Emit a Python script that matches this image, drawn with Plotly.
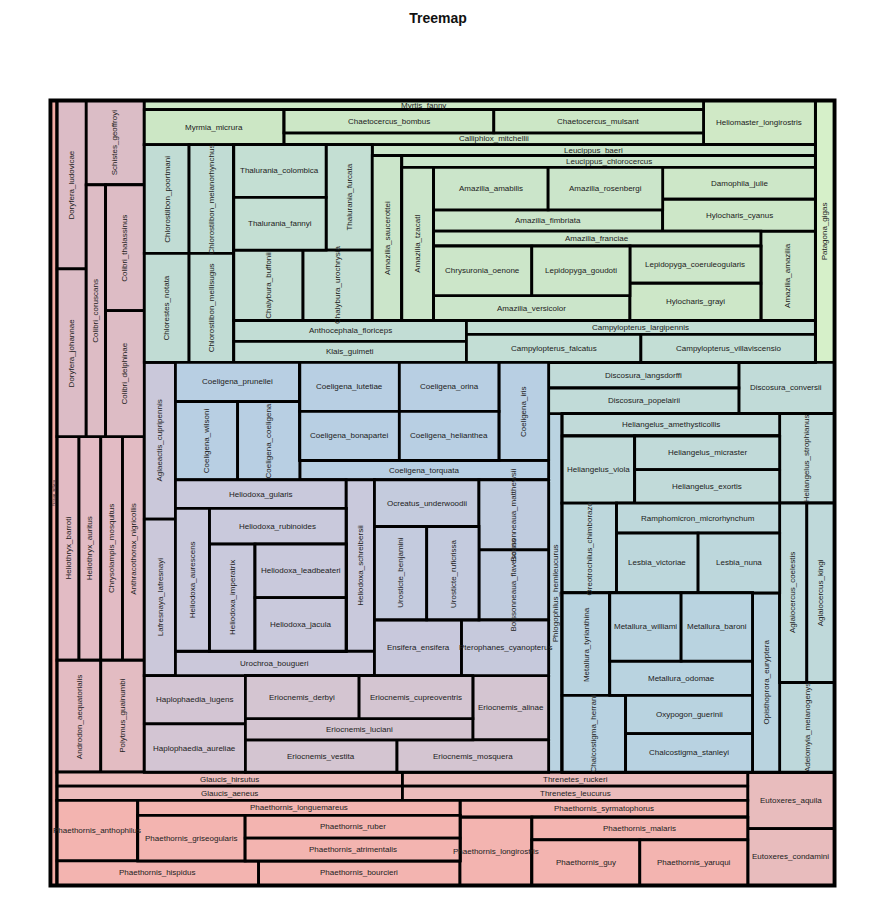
import plotly.graph_objects as go

# ---------------- data ----------------
species = [
    "Florisuga_mellivora",
    "Doryfera_ludovicae", "Doryfera_johannae", "Schistes_geoffroyi", "Colibri_coruscans",
    "Colibri_thalassinus", "Colibri_delphinae", "Heliothryx_barroti", "Heliothryx_auritus",
    "Chrysolampis_mosquitus", "Anthracothorax_nigricollis", "Androdon_aequatorialis", "Polytmus_guainumbi",
    "Myrtis_fanny", "Myrmia_micrura", "Chaetocercus_bombus", "Chaetocercus_mulsant",
    "Calliphlox_mitchellii", "Heliomaster_longirostris",
    "Chlorostilbon_poortmani", "Chlorostilbon_melanorhynchus", "Chlorestes_notata", "Chlorostilbon_mellisugus",
    "Thalurania_colombica", "Thalurania_fannyi", "Thalurania_furcata", "Chalybura_buffonii", "Chalybura_urochrysia",
    "Leucippus_baeri", "Amazilia_saucerottei", "Leucippus_chlorocercus", "Amazilia_tzacatl",
    "Amazilia_amabilis", "Amazilia_rosenbergi", "Amazilia_fimbriata", "Damophila_julie", "Hylocharis_cyanus",
    "Amazilia_franciae", "Chrysuronia_oenone", "Lepidopyga_goudoti", "Amazilia_versicolor",
    "Lepidopyga_coeruleogularis", "Hylocharis_grayi", "Amazilia_amazilia",
    "Anthocephala_floriceps", "Klais_guimeti", "Campylopterus_largipennis", "Campylopterus_falcatus",
    "Campylopterus_villaviscensio", "Patagona_gigas",
    "Aglaeactis_cupripennis", "Lafresnaya_lafresnayi",
    "Coeligena_prunellei", "Coeligena_wilsoni", "Coeligena_coeligena", "Coeligena_lutetiae", "Coeligena_orina",
    "Coeligena_bonapartei", "Coeligena_helianthea", "Coeligena_iris", "Coeligena_torquata",
    "Heliodoxa_gularis", "Heliodoxa_aurescens", "Heliodoxa_rubinoides", "Heliodoxa_imperatrix",
    "Heliodoxa_leadbeateri", "Heliodoxa_jacula", "Heliodoxa_schreibersii", "Urochroa_bougueri",
    "Ocreatus_underwoodii", "Urosticte_benjamini", "Urosticte_ruficrissa", "Boissonneaua_matthewsii",
    "Boissonneaua_flavescens", "Ensifera_ensifera", "Pterophanes_cyanopterus",
    "Haplophaedia_lugens", "Haplophaedia_aureliae", "Eriocnemis_derbyi", "Eriocnemis_cupreoventris",
    "Eriocnemis_luciani", "Eriocnemis_alinae", "Eriocnemis_vestita", "Eriocnemis_mosquera",
    "Discosura_langsdorffi", "Discosura_popelairii", "Discosura_conversii", "Phlogophilus_hemileucurus",
    "Heliangelus_amethysticollis", "Heliangelus_viola", "Heliangelus_micraster", "Heliangelus_exortis",
    "Heliangelus_strophianus", "Oreotrochilus_chimborazo", "Ramphomicron_microrhynchum", "Lesbia_victoriae",
    "Lesbia_nuna", "Metallura_tyrianthina", "Metallura_williami", "Metallura_baroni", "Metallura_odomae",
    "Chalcostigma_herrani", "Oxypogon_guerinii", "Chalcostigma_stanleyi", "Opisthoprora_euryptera",
    "Aglaiocercus_coelestis", "Aglaiocercus_kingi", "Adelomyia_melanogenys",
    "Glaucis_hirsutus", "Glaucis_aeneus", "Threnetes_ruckeri", "Threnetes_leucurus",
    "Phaethornis_anthophilus", "Phaethornis_longuemareus", "Phaethornis_griseogularis", "Phaethornis_ruber",
    "Phaethornis_atrimentalis", "Phaethornis_hispidus", "Phaethornis_bourcieri", "Phaethornis_syrmatophorus",
    "Phaethornis_longirostris", "Phaethornis_malaris", "Phaethornis_guy", "Phaethornis_yaruqui",
    "Eutoxeres_aquila", "Eutoxeres_condamini",
]

leaf_values = [
    1,
    1, 1, 1, 1, 1, 1, 1, 1, 1, 1, 1, 1,
    1, 1, 1, 1, 1, 1,
    1, 1, 1, 1,
    1, 1, 1, 1, 1,
    1, 1, 1, 1,
    1, 1, 1, 1, 1,
    1, 1, 1, 1, 1, 1, 1,
    1, 1, 1, 1, 1, 1,
    1, 1,
    1, 1, 1, 1, 1, 1, 1, 1, 1,
    1, 1, 1, 1, 1, 1, 1, 1,
    1, 1, 1, 1, 1, 1, 1,
    1, 1, 1, 1, 1, 1, 1, 1,
    1, 1, 1, 1,
    1, 1, 1, 1, 1,
    1, 1, 1, 1,
    1, 1, 1, 1, 1, 1, 1, 1,
    1, 1, 1,
    1, 1, 1, 1,
    1, 1, 1, 1, 1, 1, 1, 1, 1, 1, 1, 1,
    1, 1,
]

# nesting of the treemap (C = side by side, R = stacked)
def C(*k): return ("C", list(k))
def R(*k): return ("R", list(k))

tree = C(
    "Florisuga_mellivora",
    R(
        C(
            R(
                C(R("Doryfera_ludovicae", "Doryfera_johannae"),
                  R("Schistes_geoffroyi", C("Colibri_coruscans", R("Colibri_thalassinus", "Colibri_delphinae")))),
                C("Heliothryx_barroti", "Heliothryx_auritus", "Chrysolampis_mosquitus", "Anthracothorax_nigricollis"),
                C("Androdon_aequatorialis", "Polytmus_guainumbi"),
            ),
            R(
                C(
                    R(
                        C(R("Myrtis_fanny",
                            C("Myrmia_micrura",
                              R(C("Chaetocercus_bombus", "Chaetocercus_mulsant"), "Calliphlox_mitchellii"))),
                          "Heliomaster_longirostris"),
                        C(
                            R(C("Chlorostilbon_poortmani", "Chlorostilbon_melanorhynchus"),
                              C("Chlorestes_notata", "Chlorostilbon_mellisugus")),
                            R(
                                C(
                                    R(C(R("Thalurania_colombica", "Thalurania_fannyi"), "Thalurania_furcata"),
                                      C("Chalybura_buffonii", "Chalybura_urochrysia")),
                                    R("Leucippus_baeri",
                                      C("Amazilia_saucerottei",
                                        R("Leucippus_chlorocercus",
                                          C("Amazilia_tzacatl",
                                            R(C(R(C("Amazilia_amabilis", "Amazilia_rosenbergi"), "Amazilia_fimbriata"),
                                                R("Damophila_julie", "Hylocharis_cyanus")),
                                              C(R("Amazilia_franciae",
                                                  C(R(C("Chrysuronia_oenone", "Lepidopyga_goudoti"), "Amazilia_versicolor"),
                                                    R("Lepidopyga_coeruleogularis", "Hylocharis_grayi"))),
                                                "Amazilia_amazilia")))))),
                                ),
                                C(R("Anthocephala_floriceps", "Klais_guimeti"),
                                  R("Campylopterus_largipennis",
                                    C("Campylopterus_falcatus", "Campylopterus_villaviscensio"))),
                            ),
                        ),
                    ),
                    "Patagona_gigas",
                ),
                C(
                    R(
                        C(
                            R("Aglaeactis_cupripennis", "Lafresnaya_lafresnayi"),
                            R(
                                C(R("Coeligena_prunellei", C("Coeligena_wilsoni", "Coeligena_coeligena")),
                                  R(C(R(C("Coeligena_lutetiae", "Coeligena_orina"),
                                        C("Coeligena_bonapartei", "Coeligena_helianthea")),
                                      "Coeligena_iris"),
                                    "Coeligena_torquata")),
                                C(R(C(R("Heliodoxa_gularis",
                                        C("Heliodoxa_aurescens",
                                          R("Heliodoxa_rubinoides",
                                            C("Heliodoxa_imperatrix",
                                              R("Heliodoxa_leadbeateri", "Heliodoxa_jacula"))))),
                                      "Heliodoxa_schreibersii"),
                                    "Urochroa_bougueri"),
                                  R(C(R("Ocreatus_underwoodii", C("Urosticte_benjamini", "Urosticte_ruficrissa")),
                                      R("Boissonneaua_matthewsii", "Boissonneaua_flavescens")),
                                    C("Ensifera_ensifera", "Pterophanes_cyanopterus"))),
                            ),
                        ),
                        C(R("Haplophaedia_lugens", "Haplophaedia_aureliae"),
                          R(C(R(C("Eriocnemis_derbyi", "Eriocnemis_cupreoventris"), "Eriocnemis_luciani"),
                              "Eriocnemis_alinae"),
                            C("Eriocnemis_vestita", "Eriocnemis_mosquera"))),
                    ),
                    R(
                        C(R("Discosura_langsdorffi", "Discosura_popelairii"), "Discosura_conversii"),
                        C("Phlogophilus_hemileucurus",
                          R(C(R("Heliangelus_amethysticollis",
                                C("Heliangelus_viola", R("Heliangelus_micraster", "Heliangelus_exortis"))),
                              "Heliangelus_strophianus"),
                            C(R(C("Oreotrochilus_chimborazo",
                                  R("Ramphomicron_microrhynchum", C("Lesbia_victoriae", "Lesbia_nuna"))),
                                C(R(C("Metallura_tyrianthina",
                                      R(C("Metallura_williami", "Metallura_baroni"), "Metallura_odomae")),
                                    C("Chalcostigma_herrani", R("Oxypogon_guerinii", "Chalcostigma_stanleyi"))),
                                  "Opisthoprora_euryptera")),
                              R(C("Aglaiocercus_coelestis", "Aglaiocercus_kingi"), "Adelomyia_melanogenys")))),
                    ),
                ),
            ),
        ),
        C(
            R(C(R("Glaucis_hirsutus", "Glaucis_aeneus"), R("Threnetes_ruckeri", "Threnetes_leucurus")),
              C(R(C("Phaethornis_anthophilus",
                    R("Phaethornis_longuemareus",
                      C("Phaethornis_griseogularis", R("Phaethornis_ruber", "Phaethornis_atrimentalis")))),
                  C("Phaethornis_hispidus", "Phaethornis_bourcieri")),
                R("Phaethornis_syrmatophorus",
                  C("Phaethornis_longirostris",
                    R("Phaethornis_malaris", C("Phaethornis_guy", "Phaethornis_yaruqui")))))),
            R("Eutoxeres_aquila", "Eutoxeres_condamini"),
        ),
    ),
)

# ---------------- style ----------------
genus_colors = {
    "Florisuga": "#f3aba4", "Doryfera": "#dcbcc6", "Schistes": "#dbbdc6", "Colibri": "#ddbcc5",
    "Heliothryx": "#e2bbc4", "Chrysolampis": "#e2bbc4", "Anthracothorax": "#e2bbc3",
    "Androdon": "#e3bbc2", "Polytmus": "#e3bcc2",
    "Myrtis": "#cde8c6", "Myrmia": "#cce7c5", "Chaetocercus": "#cce7c6", "Calliphlox": "#cde7c7",
    "Heliomaster": "#d0e9c6", "Patagona": "#d6f0c9",
    "Chlorostilbon": "#c1dcd4", "Chlorestes": "#c1dcd4", "Thalurania": "#c4dfd3", "Chalybura": "#c4ded3",
    "Amazilia": "#cbe5ca", "Leucippus": "#cae5ca", "Damophila": "#cde7c8", "Hylocharis": "#cde7c8",
    "Chrysuronia": "#cce6c9", "Lepidopyga": "#cce6c9", "Anthocephala": "#c2ddd5", "Klais": "#c2ddd5",
    "Campylopterus": "#c3ded5",
    "Aglaeactis": "#cac8da", "Lafresnaya": "#cbc8da", "Coeligena": "#b8cfe3", "Heliodoxa": "#c9c9dc",
    "Urochroa": "#cbc8da", "Ocreatus": "#c4cbdd", "Urosticte": "#c4cbde", "Boissonneaua": "#c0ccdf",
    "Ensifera": "#c8c8dc", "Pterophanes": "#c6c9dc", "Haplophaedia": "#d3c5d3", "Eriocnemis": "#d4c5d1",
    "Discosura": "#c1dbd8", "Phlogophilus": "#bad3e1", "Heliangelus": "#c1dad9",
    "Oreotrochilus": "#bdd7dc", "Ramphomicron": "#bed8db", "Lesbia": "#bdd7dc", "Metallura": "#b9d3e0",
    "Chalcostigma": "#b8d2e1", "Oxypogon": "#b9d3e0", "Opisthoprora": "#b9d3df",
    "Aglaiocercus": "#bfd9da", "Adelomyia": "#bed8db",
    "Glaucis": "#ecbcbc", "Threnetes": "#ebbcbc", "Phaethornis": "#f3b4b0", "Eutoxeres": "#e8bcbd",
}

value_of = dict(zip(species, leaf_values))

# ---------------- build hierarchy ----------------
ids, parents, labels, vals, colors, lws = [], [], [], [], [], []
counter = [0]


def new_id():
    counter[0] += 1
    return "node%d" % counter[0]


def build(node, parent_id, depth):
    if isinstance(node, str):
        ids.append(node); parents.append(parent_id); labels.append(node)
        vals.append(value_of[node]); colors.append(genus_colors[node.split("_")[0]]); lws.append(2.8)
        return
    kind, children = node
    need = "C" if depth % 2 == 0 else "R"   # slice-dice: dice at even depth, slice at odd
    nid = new_id()
    ids.append(nid); parents.append(parent_id); labels.append("")
    vals.append(0); colors.append("#ffffff"); lws.append(5 if parent_id == "" else 2.8)
    if kind != need:
        build(node, nid, depth + 1)
        return
    for ch in children:
        build(ch, nid, depth + 1)


build(tree, "", 0)


def total(node):
    if isinstance(node, str):
        return value_of[node]
    return sum(total(c) for c in node[1])


rects = {}


def place(node, x0, y0, x1, y1):
    if isinstance(node, str):
        rects[node] = (x0, y0, x1, y1)
        return
    kind, children = node
    tot = total(node)
    pos = x0 if kind == "C" else y0
    for ch in children:
        f = total(ch) / tot
        if kind == "C":
            w = (x1 - x0) * f
            place(ch, pos, y0, pos + w, y1)
        else:
            w = (y1 - y0) * f
            place(ch, x0, pos, x1, pos + w)
        pos += w


place(tree, 0.0, 0.0, 1.0, 1.0)

W_PX, H_PX = 876, 906
ML, MR, MT, MB = 51, 42, 101, 21
PW, PH = W_PX - ML - MR, H_PX - MT - MB

annotations = []
for name in species:
    x0, y0, x1, y1 = rects[name]
    wpx, hpx = (x1 - x0) * PW, (y1 - y0) * PH
    vertical = hpx > wpx
    short = min(wpx, hpx)
    size = 8 if short >= 7.5 else max(3, short * 0.45)
    annotations.append(dict(
        x=(x0 + x1) / 2, y=1 - (y0 + y1) / 2, xref="paper", yref="paper",
        text=name, showarrow=False, textangle=-90 if vertical else 0,
        font=dict(size=size, color="#222222", family="Liberation Sans, Arial, sans-serif"),
        xanchor="center", yanchor="middle",
    ))

fig = go.Figure(go.Treemap(
    ids=ids, parents=parents, labels=labels, values=vals,
    branchvalues="remainder", sort=False,
    tiling=dict(packing="slice-dice", pad=0),
    marker=dict(colors=colors, line=dict(color="#000000", width=lws),
                pad=dict(t=0, l=0, r=0, b=0), depthfade=False),
    pathbar=dict(visible=False),
    textinfo="none",
    hovertemplate="%{label}<extra></extra>",
    root=dict(color="#ffffff"),
))

fig.update_layout(
    width=W_PX, height=H_PX,
    margin=dict(l=ML, r=MR, t=MT, b=MB),
    paper_bgcolor="white",
    title=dict(text="<b>Treemap</b>", x=0.5, xanchor="center", y=1 - 18 / H_PX, yanchor="middle",
               yref="container", font=dict(size=14, color="#111111", family="Liberation Sans, Arial, sans-serif")),
    annotations=annotations,
)

fig.write_html("out.html")
